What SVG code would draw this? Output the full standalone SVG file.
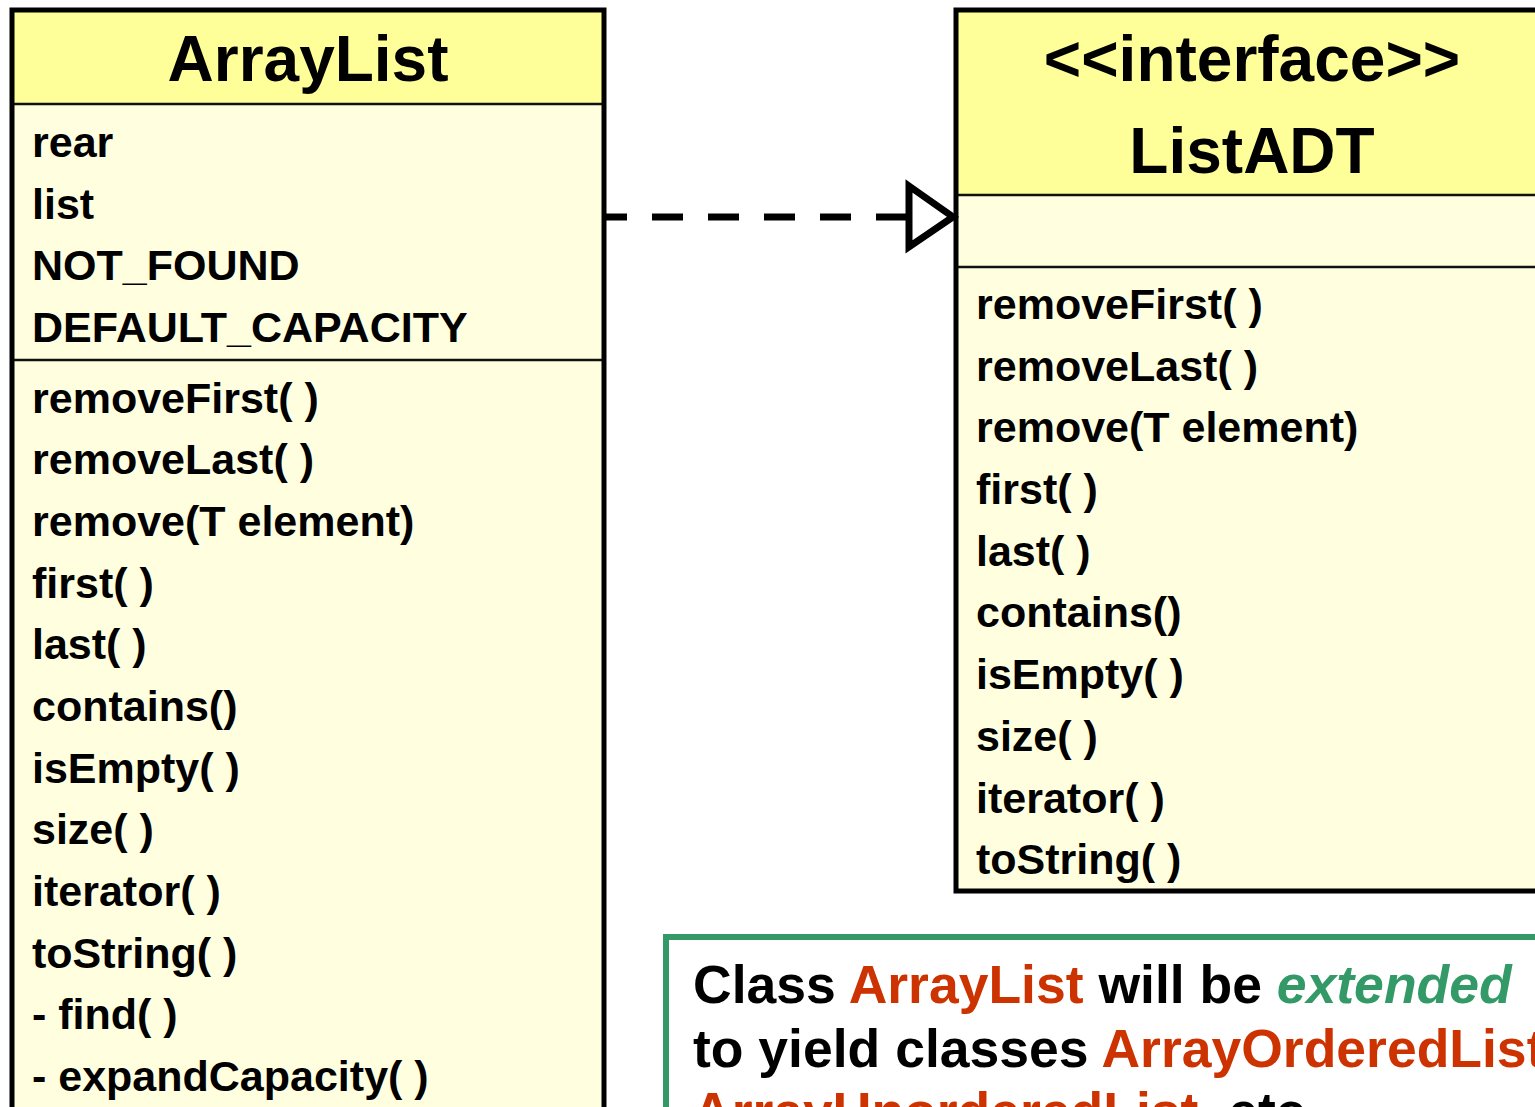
<svg xmlns="http://www.w3.org/2000/svg" width="1535" height="1107" viewBox="0 0 1535 1107">
<style>
.t{font-family:"Liberation Sans",Arial,Helvetica,sans-serif;font-weight:bold;fill:#000}
.m{font-size:43px}
.h{font-size:64px}
.n{font-size:53.5px}
.hd{fill:#FFFF99}
.bd{fill:#FFFFE0}
.ob{fill:none;stroke:#000;stroke-width:5}
.sep{stroke:#111;stroke-width:2.5}
.red{fill:#CC3300}
.grn{fill:#339966;font-style:italic}
</style>
<rect width="1535" height="1107" fill="#fff"/>
<g id="ArrayList">
<rect x="12" y="10" width="592" height="1100" class="bd"/>
<rect x="12" y="10" width="592" height="94" class="hd"/>
<line x1="12" y1="104" x2="604" y2="104" class="sep"/>
<line x1="12" y1="360" x2="604" y2="360" class="sep"/>
<rect x="12" y="10" width="592" height="1100" class="ob"/>
<text x="308" y="81" text-anchor="middle" class="t h">ArrayList</text>
<text class="t m" x="32">
<tspan x="32" y="157">rear</tspan>
<tspan x="32" y="218.5">list</tspan>
<tspan x="32" y="280">NOT_FOUND</tspan>
<tspan x="32" y="341.5">DEFAULT_CAPACITY</tspan>
<tspan x="32" y="412.5">removeFirst( )</tspan>
<tspan x="32" y="474">removeLast( )</tspan>
<tspan x="32" y="535.5">remove(T element)</tspan>
<tspan x="32" y="597.5">first( )</tspan>
<tspan x="32" y="659">last( )</tspan>
<tspan x="32" y="720.5">contains()</tspan>
<tspan x="32" y="782.5">isEmpty( )</tspan>
<tspan x="32" y="844">size( )</tspan>
<tspan x="32" y="905.5">iterator( )</tspan>
<tspan x="32" y="967.5">toString( )</tspan>
<tspan x="32" y="1029">- find( )</tspan>
<tspan x="32" y="1091">- expandCapacity( )</tspan>
</text>
</g>
<g id="ListADT">
<rect x="956" y="10" width="600" height="881" class="bd"/>
<rect x="956" y="10" width="600" height="185" class="hd"/>
<line x1="956" y1="195" x2="1556" y2="195" class="sep"/>
<line x1="956" y1="267" x2="1556" y2="267" class="sep"/>
<rect x="956" y="10" width="600" height="881" class="ob"/>
<text x="1252" y="81" text-anchor="middle" class="t h">&lt;&lt;interface&gt;&gt;</text>
<text x="1252" y="173" text-anchor="middle" class="t h">ListADT</text>
<text class="t m">
<tspan x="976" y="319">removeFirst( )</tspan>
<tspan x="976" y="380.5">removeLast( )</tspan>
<tspan x="976" y="442">remove(T element)</tspan>
<tspan x="976" y="504">first( )</tspan>
<tspan x="976" y="565.5">last( )</tspan>
<tspan x="976" y="627">contains()</tspan>
<tspan x="976" y="689">isEmpty( )</tspan>
<tspan x="976" y="751">size( )</tspan>
<tspan x="976" y="812.5">iterator( )</tspan>
<tspan x="976" y="874">toString( )</tspan>
</text>
</g>
<g id="connectors">
<line x1="606" y1="217" x2="907" y2="217" stroke="#000" stroke-width="7" stroke-dasharray="31 25" stroke-dashoffset="10"/>
<polygon points="909,186 953,217 909,247" fill="#fff" stroke="#000" stroke-width="7" stroke-linejoin="miter"/>
</g>
<g id="note">
<rect x="666" y="937" width="900" height="200" fill="#fff" stroke="#339966" stroke-width="6"/>
<text class="t n" x="693" y="1003">Class <tspan class="red">ArrayList</tspan> will be <tspan class="grn">extended</tspan></text>
<text class="t n" x="693" y="1067">to yield classes <tspan class="red">ArrayOrderedList,</tspan></text>
<text class="t n" x="693" y="1130"><tspan class="red">ArrayUnorderedList</tspan>, etc.</text>
</g>
</svg>
